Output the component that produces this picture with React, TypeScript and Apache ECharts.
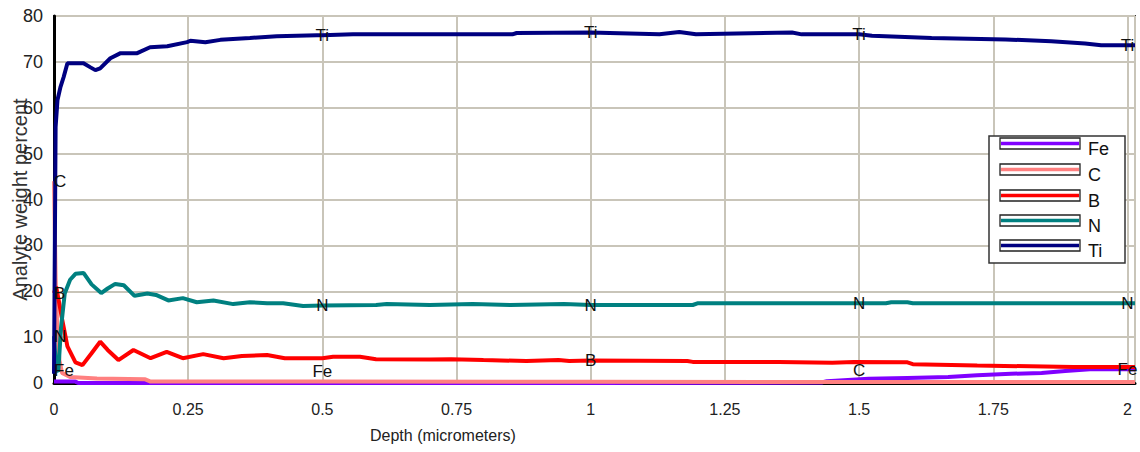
import React, { useEffect, useRef } from "react";
import * as echarts from "echarts";

// ---- Data ----
const xTicks = [0, 0.25, 0.5, 0.75, 1, 1.25, 1.5, 1.75, 2];
const yTicks = [0, 10, 20, 30, 40, 50, 60, 70, 80];

const feDepth = [0, 0.04, 0.045, 0.5, 1.0, 1.43, 1.44, 1.518, 1.59, 1.666, 1.72, 1.783, 1.84, 1.884, 1.93, 2.0, 2.014];
const feValues = [0.3, 0.3, 0, 0, 0, 0.1, 0.4, 0.9, 1.1, 1.3, 1.7, 2.0, 2.2, 2.6, 3.0, 3.0, 3.0];

const cDepth = [0, 0.003, 0.006, 0.01, 0.015, 0.03, 0.08, 0.17, 0.18, 0.5, 1.0, 1.5, 2.0, 2.014];
const cValues = [44, 23, 12, 5, 2.2, 1.3, 1.0, 0.8, 0.3, 0.3, 0.25, 0.2, 0.2, 0.2];

const bDepth = [0, 0.004, 0.008, 0.015, 0.025, 0.04, 0.053, 0.07, 0.086, 0.1, 0.12, 0.148, 0.18, 0.21, 0.24, 0.278, 0.316, 0.35, 0.397, 0.43, 0.464, 0.5, 0.52, 0.57, 0.6, 0.7, 0.74, 0.8, 0.88, 0.94, 0.96, 1.0, 1.18, 1.19, 1.35, 1.45, 1.49, 1.59, 1.6, 1.72, 1.9, 2.0, 2.014];
const bValues = [19.6, 21, 18.5, 14, 8, 4.5, 3.9, 6.5, 9.0, 7.2, 5.0, 7.2, 5.4, 6.8, 5.4, 6.3, 5.4, 5.9, 6.1, 5.4, 5.4, 5.4, 5.7, 5.7, 5.2, 5.1, 5.2, 5.0, 4.8, 5.0, 4.8, 4.9, 4.8, 4.6, 4.6, 4.4, 4.6, 4.5, 4.1, 3.8, 3.5, 3.5, 3.5];

const nDepth = [0, 0.004, 0.008, 0.013, 0.02, 0.03, 0.04, 0.055, 0.07, 0.088, 0.1, 0.114, 0.13, 0.15, 0.174, 0.19, 0.213, 0.24, 0.266, 0.297, 0.334, 0.365, 0.397, 0.427, 0.464, 0.5, 0.6, 0.62, 0.7, 0.78, 0.85, 0.95, 1.0, 1.19, 1.2, 1.5, 1.55, 1.56, 1.59, 1.6, 2.0, 2.014];
const nValues = [10.2, 3, 2.5, 12, 19.5, 22.5, 23.8, 24, 21.5, 19.6, 20.6, 21.6, 21.3, 19.0, 19.5, 19.2, 18.0, 18.5, 17.6, 18.0, 17.2, 17.6, 17.4, 17.4, 16.8, 16.9, 17.0, 17.2, 17.0, 17.2, 17.0, 17.2, 17.0, 17.0, 17.4, 17.4, 17.4, 17.6, 17.6, 17.4, 17.4, 17.4];

const tiDepth = [0, 0.003, 0.0065, 0.012, 0.018, 0.025, 0.055, 0.068, 0.077, 0.086, 0.105, 0.124, 0.155, 0.179, 0.211, 0.248, 0.254, 0.282, 0.31, 0.365, 0.415, 0.49, 0.5, 0.557, 0.854, 0.862, 1.0, 1.035, 1.128, 1.165, 1.196, 1.375, 1.393, 1.5, 1.524, 1.635, 1.773, 1.858, 1.921, 1.951, 2.0, 2.014];
const tiValues = [2, 55.8, 61.7, 64.5, 66.7, 69.7, 69.7, 68.8, 68.2, 68.6, 70.8, 71.9, 71.9, 73.2, 73.4, 74.3, 74.6, 74.3, 74.8, 75.2, 75.6, 75.8, 75.8, 76.0, 76.0, 76.3, 76.4, 76.3, 76.0, 76.5, 76.0, 76.4, 76.0, 76.0, 75.7, 75.2, 74.9, 74.5, 74.0, 73.6, 73.6, 73.6];

const seriesNames = ["Fe", "C", "B", "N", "Ti"];
const seriesColors = ["#8000ff", "#ff8080", "#ff0000", "#008080", "#000080"];
const seriesDepths = [feDepth, cDepth, bDepth, nDepth, tiDepth];
const seriesValues = [feValues, cValues, bValues, nValues, tiValues];
// depths at which each curve carries its inline name label
const labelDepths = [
  [0, 0.5, 2.0],
  [0, 1.5],
  [0, 1.0],
  [0, 0.5, 1.0, 1.5, 2.0],
  [0.5, 1.0, 1.5, 2.0],
];

const FONT = "Liberation Sans";

function buildData(si: number) {
  const d = seriesDepths[si];
  const v = seriesValues[si];
  const labs = labelDepths[si];
  return d.map((x, i) => {
    if (!labs.includes(x)) return [x, v[i]];
    const nearZero = v[i] < 1.5;
    let label: any;
    if (x === 0 && nearZero) {
      label = { show: true, position: "top", align: "left", distance: 3 };
    } else if (x === 0) {
      label = { show: true, position: "inside", align: "left" };
    } else if (nearZero) {
      label = { show: true, position: "top", distance: 3 };
    } else {
      label = { show: true, position: "inside" };
    }
    return {
      value: [x, v[i]],
      symbol: "circle",
      symbolSize: 0,
      label: {
        ...label,
        formatter: seriesNames[si],
        fontFamily: FONT,
        fontSize: 17,
        color: "#111",
      },
    };
  });
}

export default function App() {
  const ref = useRef<HTMLDivElement>(null);
  useEffect(() => {
    document.body.style.margin = "0";
    const chart = echarts.init(ref.current!, null, { renderer: "svg" });

    const legendX = 989;
    const legendY = 136;
    const rowTop = [138, 164, 190, 215, 240];
    const legendEls: any[] = [
      {
        type: "rect",
        shape: { x: legendX, y: legendY, width: 136, height: 127 },
        style: { fill: "#fff", stroke: "#333", lineWidth: 1.5 },
        z: 100,
      },
    ];
    seriesNames.forEach((name, i) => {
      const top = rowTop[i];
      legendEls.push({
        type: "rect",
        shape: { x: 1000, y: top, width: 80, height: 11 },
        style: { fill: "#fff", stroke: "#222", lineWidth: 1.3 },
        z: 101,
      });
      legendEls.push({
        type: "line",
        shape: { x1: 1001, y1: top + 5.5, x2: 1079, y2: top + 5.5 },
        style: { stroke: seriesColors[i], lineWidth: 3.5 },
        z: 102,
      });
      legendEls.push({
        type: "text",
        x: 1088,
        y: top + 11,
        style: {
          text: name,
          font: `18px ${FONT}`,
          fill: "#111",
          verticalAlign: "middle",
          align: "left",
        },
        z: 102,
      });
    });

    const option: any = {
      animation: false,
      backgroundColor: "#fff",
      textStyle: { fontFamily: FONT },
      grid: {
        left: 54,
        right: 5,
        top: 16,
        bottom: 69,
        show: true,
        borderColor: "#3a3a3a",
        borderWidth: 2,
        backgroundColor: "#fff",
        containLabel: false,
        outerBoundsMode: "none",
      },
      xAxis: {
        type: "value",
        min: xTicks[0],
        max: 2.014,
        interval: 0.25,
        axisLine: { show: true, onZero: false, lineStyle: { color: "#000", width: 3 } },
        axisTick: { show: false },
        splitLine: { show: true, lineStyle: { color: "#c9c5b9", width: 2 } },
        axisLabel: {
          margin: 18,
          fontSize: 16,
          fontFamily: FONT,
          color: "#222",
          formatter: (val: number) => {
            const hit = xTicks.find((t) => Math.abs(t - val) < 1e-6);
            return hit === undefined ? "" : String(hit);
          },
        },
      },
      yAxis: {
        type: "value",
        min: yTicks[0],
        max: yTicks[yTicks.length - 1],
        interval: 10,
        name: "Analyte weight percent",
        nameLocation: "middle",
        nameGap: 24,
        nameMoveOverlap: false,
        nameTextStyle: { fontSize: 20, fontFamily: FONT, color: "#333" },
        axisLine: { show: true, lineStyle: { color: "#000", width: 3 } },
        axisTick: { show: false },
        splitLine: { show: true, lineStyle: { color: "#c9c5b9", width: 2 } },
        axisLabel: { margin: 11, fontSize: 18, fontFamily: FONT, color: "#222" },
      },
      graphic: [
        {
          type: "text",
          left: 370,
          top: 427,
          style: { text: "Depth (micrometers)", font: `16px ${FONT}`, fill: "#222" },
        },
        ...legendEls,
      ],
      series: seriesNames.map((name, i) => ({
        name,
        type: "line",
        symbol: "none",
        showSymbol: true,
        data: buildData(i),
        lineStyle: { color: seriesColors[i], width: 4 },
        itemStyle: { color: seriesColors[i] },
        emphasis: { disabled: true },
      })),
    };
    chart.setOption(option);
    return () => chart.dispose();
  }, []);
  return (
    <div
      ref={ref}
      style={{ position: "absolute", left: 0, top: 0, width: 1140, height: 452 }}
    />
  );
}
